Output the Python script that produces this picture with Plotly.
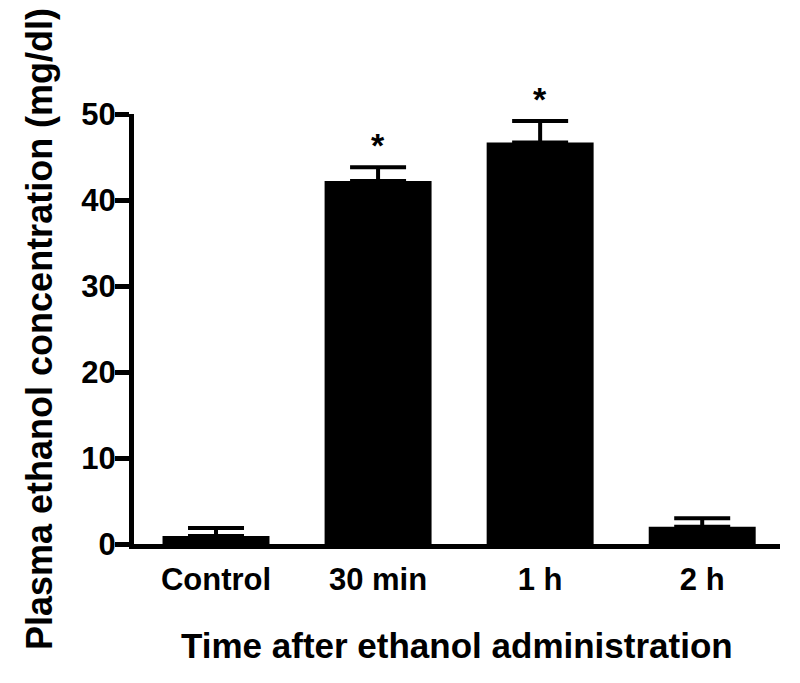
import plotly.graph_objects as go

categories = ["Control", "30 min", "1 h", "2 h"]
means = [0.93, 42.2, 46.7, 2.0]
sem_upper = [0.93, 1.6, 2.5, 1.0]
significant = [False, True, True, False]
y_ticks = [0, 10, 20, 30, 40, 50]

FONT = "Liberation Sans, Arial, sans-serif"

fig = go.Figure()
fig.add_trace(go.Bar(
    x=list(range(len(categories))),
    y=means,
    width=0.66,
    marker=dict(color="black", line=dict(width=0)),
    error_y=dict(type="data", array=sem_upper, arrayminus=[0] * len(means),
                 symmetric=False, color="black", thickness=4, width=28),
    cliponaxis=False,
))

for i, (m, e, s) in enumerate(zip(means, sem_upper, significant)):
    if s:
        fig.add_annotation(x=i, y=m + e, text="<b>*</b>", showarrow=False,
                           yanchor="bottom", yshift=1,
                           font=dict(family=FONT, size=34, color="black"))

# axis titles as annotations for precise placement
fig.add_annotation(xref="paper", yref="paper", x=0.5, y=-0.237,
                   text="<b>Time after ethanol administration</b>", showarrow=False,
                   xanchor="center", yanchor="middle",
                   font=dict(family=FONT, size=35, color="black"))
fig.add_annotation(xref="paper", yref="paper", x=0, y=0.5, xshift=-95,
                   text="<b>Plasma ethanol concentration (mg/dl)</b>", showarrow=False,
                   textangle=-90, xanchor="center", yanchor="middle",
                   font=dict(family=FONT, size=36, color="black"))

fig.update_layout(
    width=792, height=675,
    margin=dict(l=126, r=20, t=106, b=139),
    paper_bgcolor="white", plot_bgcolor="white",
    showlegend=False,
    font=dict(family=FONT, color="black"),
)
fig.update_xaxes(
    range=[-0.506, 3.48], automargin=False,
    tickmode="array", tickvals=list(range(len(categories))), ticktext=[f"<b>{c}</b>" for c in categories],
    tickfont=dict(size=31, family=FONT),
    showline=True, linewidth=5, linecolor="black",
    ticks="outside", ticklen=4, tickcolor="rgba(0,0,0,0)",
    showgrid=False, zeroline=False,
)
fig.update_yaxes(
    range=[0, 50], automargin=False,
    tickmode="array", tickvals=y_ticks, ticktext=[f"<b>{t}</b>" for t in y_ticks],
    tickfont=dict(size=31, family=FONT),
    showline=True, linewidth=5, linecolor="black",
    ticks="outside", ticklen=14, tickwidth=5, tickcolor="black",
    ticklabelstandoff=-7,
    showgrid=False, zeroline=False,
)

fig.write_html("out.html")
